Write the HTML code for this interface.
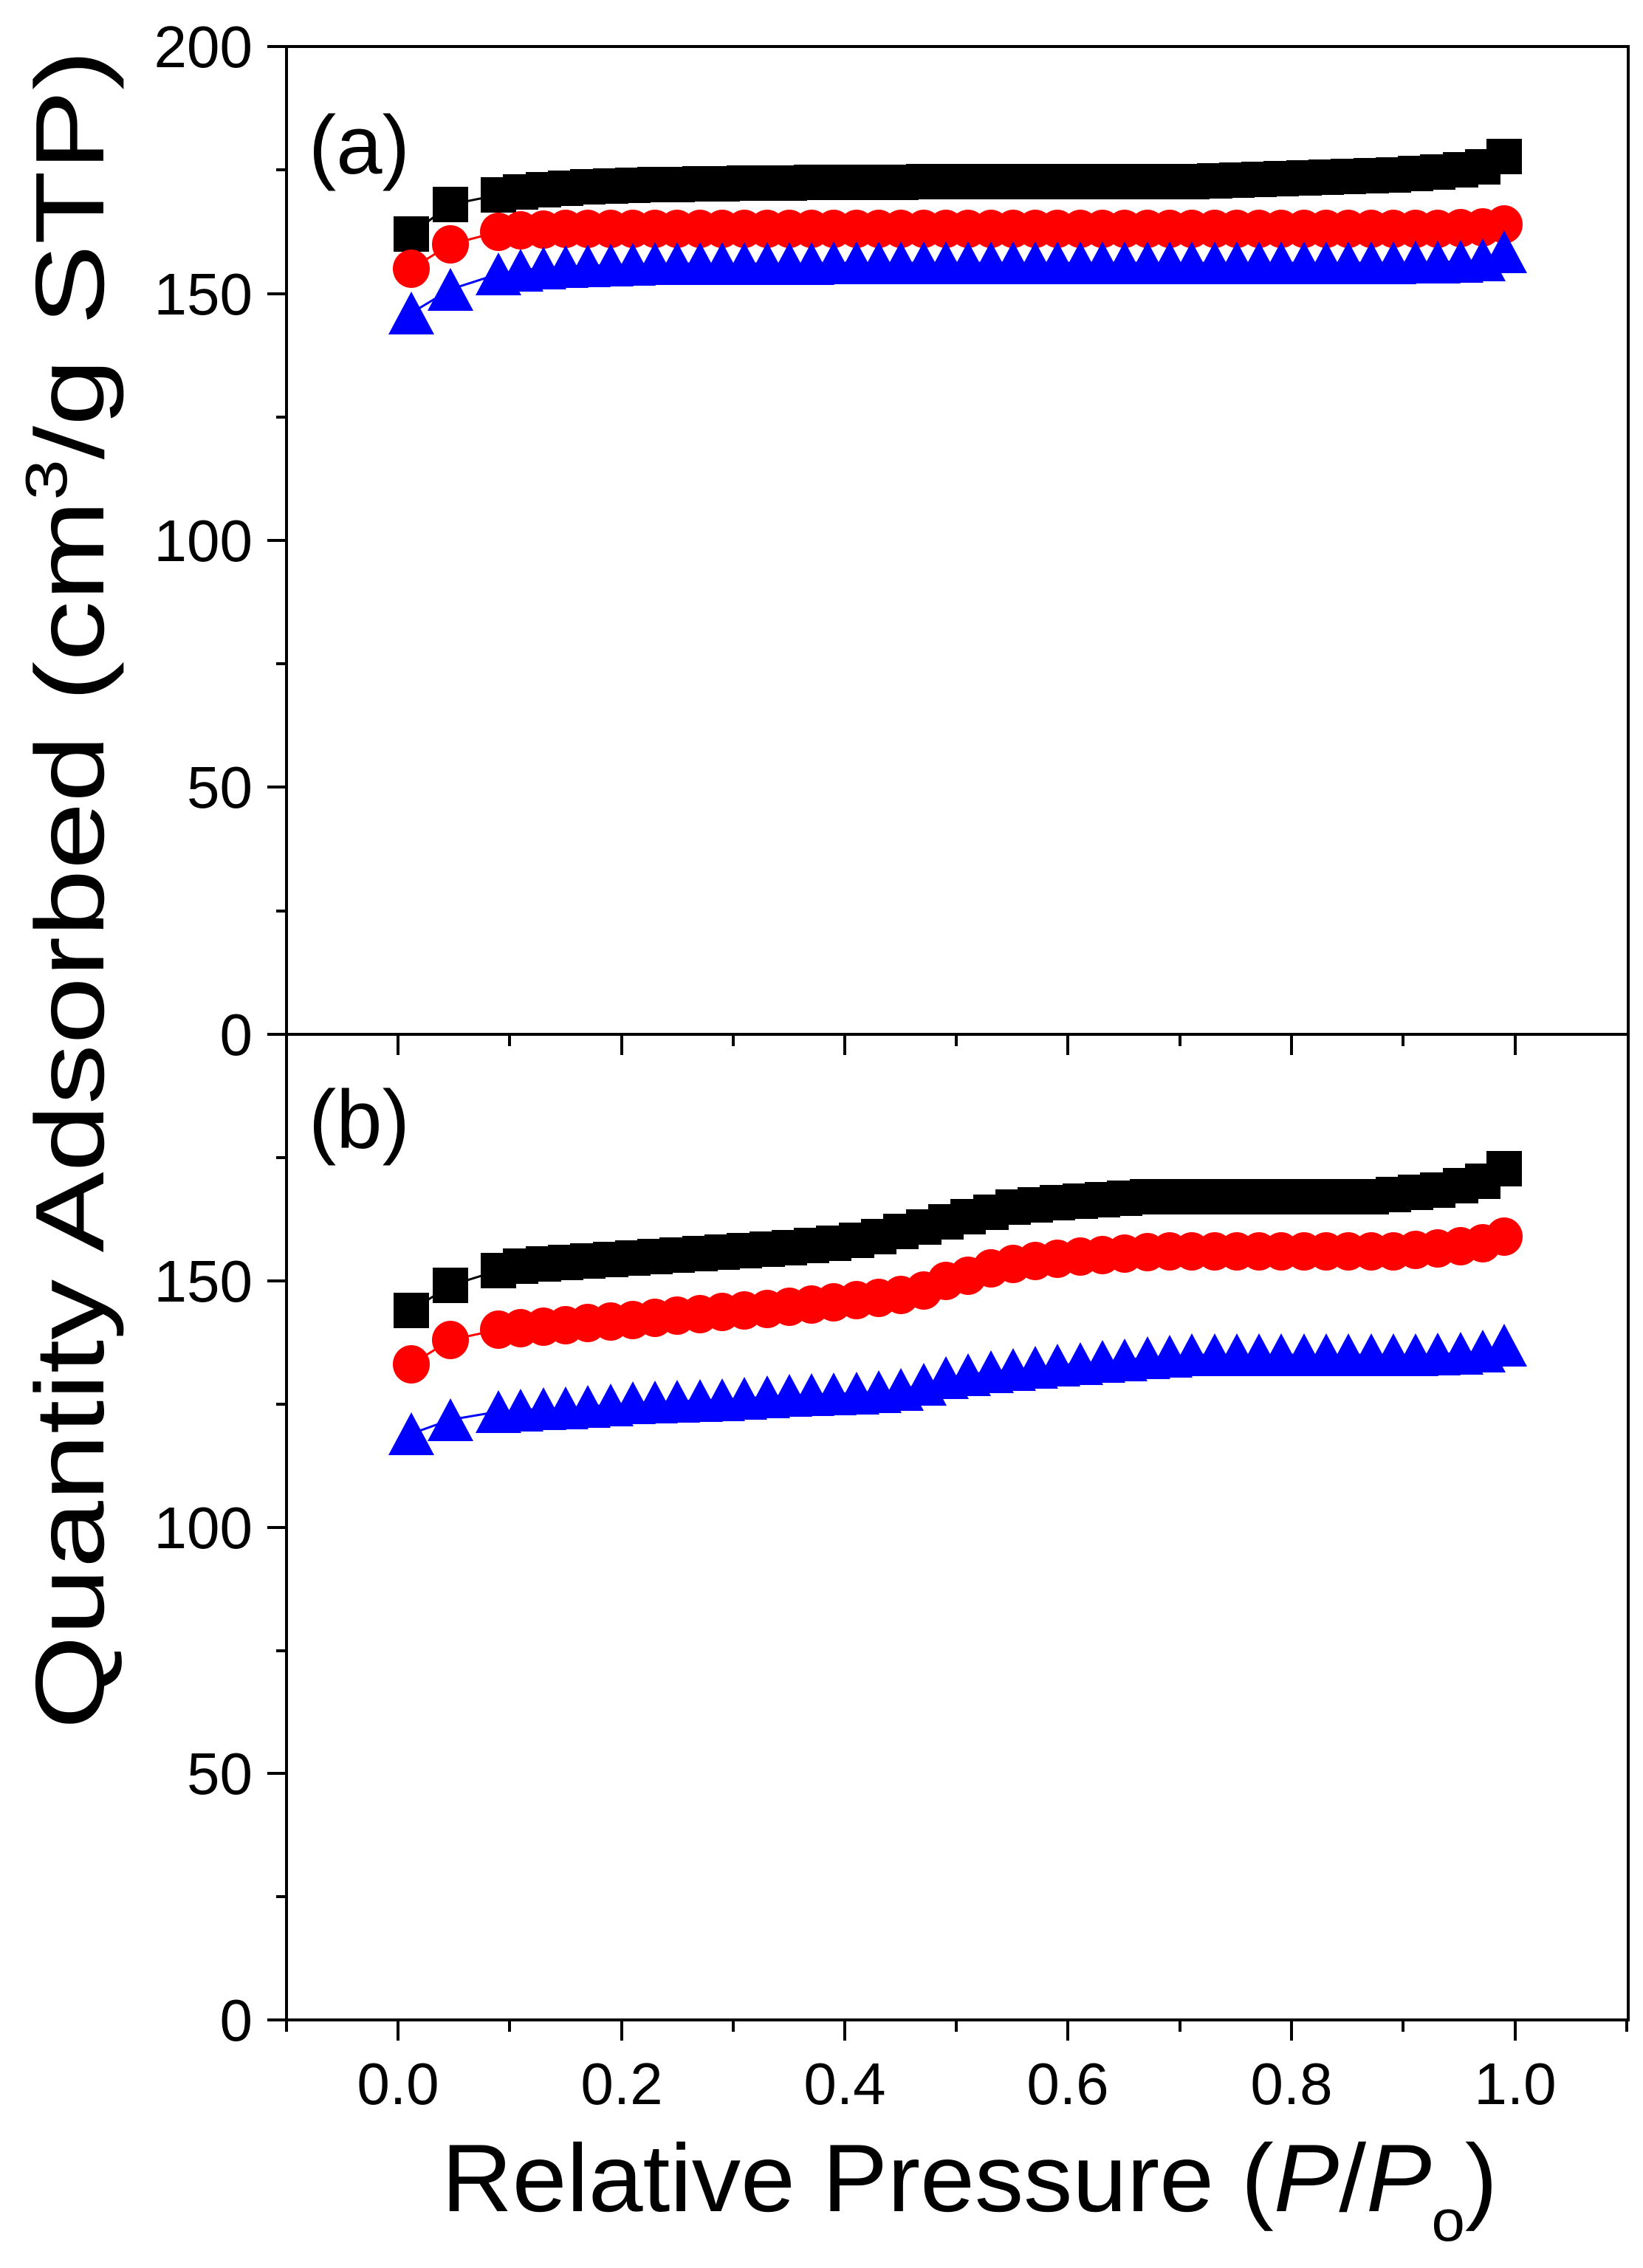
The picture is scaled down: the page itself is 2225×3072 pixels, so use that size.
<!DOCTYPE html>
<html><head><meta charset="utf-8"><style>
html,body{margin:0;padding:0;background:#fff;}
svg{display:block;}
text{font-family:"Liberation Sans",Arial,sans-serif;fill:#000;}
</style></head><body>
<svg width="2225" height="3072" viewBox="0 0 2225 3072" xmlns="http://www.w3.org/2000/svg">
<defs>
<marker id="sq" markerUnits="userSpaceOnUse" markerWidth="60" markerHeight="60" refX="30" refY="30" overflow="visible"><rect x="6" y="6" width="48" height="48" fill="#000"/></marker>
<marker id="ci" markerUnits="userSpaceOnUse" markerWidth="60" markerHeight="60" refX="30" refY="30" overflow="visible"><ellipse cx="30" cy="30" rx="25" ry="26" fill="#f00"/></marker>
<marker id="tr" markerUnits="userSpaceOnUse" markerWidth="70" markerHeight="70" refX="35" refY="35" overflow="visible"><polygon points="35,6 66,64 4,64" fill="#00f"/></marker>
</defs>

<!-- frames -->
<rect x="388" y="63" width="1817" height="2673" fill="none" stroke="#000" stroke-width="4"/>
<line x1="388" y1="1401" x2="2205" y2="1401" stroke="#000" stroke-width="4"/>

<!-- y ticks top -->
<g stroke="#000" stroke-width="4">
<line x1="362" y1="63" x2="388" y2="63"/><line x1="374" y1="230" x2="388" y2="230"/>
<line x1="362" y1="398" x2="388" y2="398"/><line x1="374" y1="565" x2="388" y2="565"/>
<line x1="362" y1="732" x2="388" y2="732"/><line x1="374" y1="899" x2="388" y2="899"/>
<line x1="362" y1="1066" x2="388" y2="1066"/><line x1="374" y1="1234" x2="388" y2="1234"/>
<line x1="362" y1="1401" x2="388" y2="1401"/>
<line x1="374" y1="1568" x2="388" y2="1568"/>
<line x1="362" y1="1735" x2="388" y2="1735"/><line x1="374" y1="1902" x2="388" y2="1902"/>
<line x1="362" y1="2069" x2="388" y2="2069"/><line x1="374" y1="2236" x2="388" y2="2236"/>
<line x1="362" y1="2402" x2="388" y2="2402"/><line x1="374" y1="2569" x2="388" y2="2569"/>
<line x1="362" y1="2736" x2="388" y2="2736"/>
</g>
<!-- x ticks -->
<g stroke="#000" stroke-width="4">
<line x1="388" y1="1401" x2="388" y2="1417"/><line x1="539" y1="1401" x2="539" y2="1429"/><line x1="690" y1="1401" x2="690" y2="1417"/><line x1="842" y1="1401" x2="842" y2="1429"/><line x1="993" y1="1401" x2="993" y2="1417"/><line x1="1144" y1="1401" x2="1144" y2="1429"/><line x1="1295" y1="1401" x2="1295" y2="1417"/><line x1="1446" y1="1401" x2="1446" y2="1429"/><line x1="1598" y1="1401" x2="1598" y2="1417"/><line x1="1749" y1="1401" x2="1749" y2="1429"/><line x1="1900" y1="1401" x2="1900" y2="1417"/><line x1="2052" y1="1401" x2="2052" y2="1429"/>
<line x1="388" y1="2736" x2="388" y2="2752"/><line x1="539" y1="2736" x2="539" y2="2764"/><line x1="690" y1="2736" x2="690" y2="2752"/><line x1="842" y1="2736" x2="842" y2="2764"/><line x1="993" y1="2736" x2="993" y2="2752"/><line x1="1144" y1="2736" x2="1144" y2="2764"/><line x1="1295" y1="2736" x2="1295" y2="2752"/><line x1="1446" y1="2736" x2="1446" y2="2764"/><line x1="1598" y1="2736" x2="1598" y2="2752"/><line x1="1749" y1="2736" x2="1749" y2="2764"/><line x1="1900" y1="2736" x2="1900" y2="2752"/><line x1="2052" y1="2736" x2="2052" y2="2764"/><line x1="2203" y1="2736" x2="2203" y2="2752"/>
</g>

<!-- y tick labels -->
<g font-size="80" text-anchor="end">
<text x="342" y="91">200</text><text x="342" y="426">150</text><text x="342" y="760">100</text><text x="342" y="1094">50</text><text x="342" y="1429">0</text>
<text x="342" y="1763">150</text><text x="342" y="2097">100</text><text x="342" y="2430">50</text><text x="342" y="2764">0</text>
</g>
<g font-size="80" text-anchor="middle">
<text x="539" y="2850">0.0</text><text x="842" y="2850">0.2</text><text x="1144" y="2850">0.4</text><text x="1446" y="2850">0.6</text><text x="1749" y="2850">0.8</text><text x="2052" y="2850">1.0</text>
</g>

<text x="418" y="235" font-size="112">(a)</text>
<text x="418" y="1555" font-size="112">(b)</text>

<text transform="translate(140,1205) rotate(-90)" font-size="132" text-anchor="middle" textLength="2275" lengthAdjust="spacingAndGlyphs">Quantity Adsorbed (cm<tspan font-size="80" dy="-50">3</tspan><tspan dy="50">/g STP)</tspan></text>
<text x="598" y="2995" font-size="130" textLength="1430" lengthAdjust="spacingAndGlyphs">Relative Pressure (<tspan font-style="italic">P</tspan>/<tspan font-style="italic">P</tspan><tspan font-size="80" dy="40">o</tspan><tspan dy="-40">)</tspan></text>

<!-- top panel -->
<polyline fill="none" stroke="#000" stroke-width="3" marker-start="url(#sq)" marker-mid="url(#sq)" marker-end="url(#sq)" points="557,317 610,277 675,264 705,260 736,257 766,255 796,253 827,252 857,251 887,250 917,250 948,249 978,249 1008,248 1039,248 1069,248 1099,247 1129,247 1160,247 1190,247 1220,247 1251,246 1281,246 1311,246 1342,246 1372,246 1402,246 1432,246 1463,246 1493,246 1523,246 1554,246 1584,246 1614,246 1645,245 1675,244 1705,243 1735,242 1766,241 1796,240 1826,239 1857,238 1887,237 1917,235 1947,233 1978,230 2008,226 2037,212"/>
<polyline fill="none" stroke="#f00" stroke-width="3" marker-start="url(#ci)" marker-mid="url(#ci)" marker-end="url(#ci)" points="557,364 610,331 675,314 705,312 736,311 766,310 796,310 827,310 857,310 887,310 917,310 948,310 978,310 1008,310 1039,310 1069,310 1099,310 1129,310 1160,310 1190,310 1220,310 1251,310 1281,310 1311,310 1342,310 1372,310 1402,310 1432,310 1463,310 1493,310 1523,310 1554,310 1584,310 1614,310 1645,310 1675,310 1705,310 1735,310 1766,310 1796,310 1826,310 1857,310 1887,310 1917,310 1947,310 1978,309 2008,308 2037,304"/>
<polyline fill="none" stroke="#00f" stroke-width="3" marker-start="url(#tr)" marker-mid="url(#tr)" marker-end="url(#tr)" points="557,424 610,392 675,371 705,366 736,363 766,361 796,360 827,359 857,358 887,357 917,357 948,357 978,357 1008,357 1039,357 1069,357 1099,357 1129,356 1160,356 1190,356 1220,356 1251,356 1281,356 1311,356 1342,356 1372,356 1402,356 1432,356 1463,356 1493,356 1523,356 1554,356 1584,356 1614,356 1645,356 1675,356 1705,356 1735,356 1766,356 1796,356 1826,356 1857,356 1887,356 1917,355 1947,355 1978,354 2008,352 2037,341"/>

<!-- bottom panel -->
<polyline fill="none" stroke="#000" stroke-width="3" marker-start="url(#sq)" marker-mid="url(#sq)" marker-end="url(#sq)" points="557,1775 610,1741 675,1721 705,1715 736,1712 766,1710 796,1708 827,1706 857,1704 887,1702 917,1700 948,1698 978,1696 1008,1694 1039,1692 1069,1690 1099,1687 1129,1684 1160,1680 1190,1675 1220,1668 1251,1662 1281,1655 1311,1648 1342,1642 1372,1635 1402,1632 1432,1629 1463,1627 1493,1625 1523,1623 1554,1621 1584,1621 1614,1621 1645,1621 1675,1621 1705,1621 1735,1621 1766,1621 1796,1621 1826,1621 1857,1621 1887,1618 1917,1615 1947,1612 1978,1606 2008,1600 2037,1583"/>
<polyline fill="none" stroke="#f00" stroke-width="3" marker-start="url(#ci)" marker-mid="url(#ci)" marker-end="url(#ci)" points="557,1848 610,1815 675,1801 705,1799 736,1797 766,1795 796,1792 827,1790 857,1788 887,1785 917,1782 948,1780 978,1777 1008,1775 1039,1773 1069,1770 1099,1767 1129,1764 1160,1761 1190,1758 1220,1754 1251,1748 1281,1735 1311,1728 1342,1718 1372,1712 1402,1708 1432,1705 1463,1702 1493,1700 1523,1698 1554,1696 1584,1695 1614,1695 1645,1695 1675,1695 1705,1695 1735,1695 1766,1695 1796,1695 1826,1695 1857,1695 1887,1695 1917,1693 1947,1691 1978,1688 2008,1684 2037,1675"/>
<polyline fill="none" stroke="#00f" stroke-width="3" marker-start="url(#tr)" marker-mid="url(#tr)" marker-end="url(#tr)" points="557,1942 610,1923 675,1912 705,1910 736,1908 766,1907 796,1905 827,1903 857,1900 887,1899 917,1898 948,1897 978,1896 1008,1894 1039,1892 1069,1890 1099,1889 1129,1888 1160,1887 1190,1885 1220,1882 1251,1875 1281,1866 1311,1862 1342,1858 1372,1855 1402,1852 1432,1849 1463,1847 1493,1844 1523,1842 1554,1839 1584,1837 1614,1835 1645,1835 1675,1835 1705,1835 1735,1835 1766,1835 1796,1835 1826,1835 1857,1835 1887,1835 1917,1835 1947,1834 1978,1833 2008,1830 2037,1822"/>
</svg>
</body></html>
